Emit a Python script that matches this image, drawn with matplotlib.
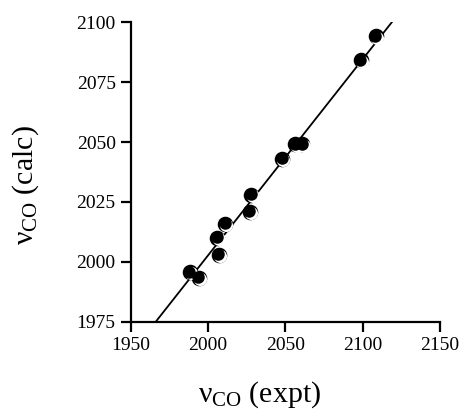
import matplotlib.pyplot as plt
import matplotlib.transforms as mtransforms

plt.rcParams['font.family'] = 'Liberation Serif'
plt.rcParams['mathtext.fontset'] = 'custom'
plt.rcParams['mathtext.rm'] = 'Liberation Serif'

# measured vs calculated CO stretching frequencies
nu_expt = [1988, 1994, 2006, 2007, 2011, 2027, 2028, 2048, 2056.5, 2061, 2099, 2108.5]
nu_calc = [1995.7, 1993.5, 2010, 2003, 2016, 2021, 2028, 2043, 2049, 2049, 2084, 2094]

# fitted line (end points)
fit_x = [1966, 2119]
fit_y = [1975, 2100]

xticks = [1950, 2000, 2050, 2100, 2150]
yticks = [1975, 2000, 2025, 2050, 2075, 2100]

fig = plt.figure(figsize=(4.61, 4.09), dpi=100)
ax = fig.add_axes([0.284, 0.213, 0.670, 0.733])

ax.plot(fit_x, fit_y, color='black', lw=1.3, zorder=2)

# circles with a little white crescent, like the original
off = lambda dx, dy: mtransforms.offset_copy(ax.transData, fig=fig, x=dx, y=dy, units='dots')
ax.plot(nu_expt, nu_calc, 'o', ms=11.2, color='black', mec='none', zorder=3)
ax.plot(nu_expt, nu_calc, 'o', ms=9.4, color='white', mec='none', zorder=4,
        transform=off(1.2, -1.2))
ax.plot(nu_expt, nu_calc, 'o', ms=9.0, color='black', mec='none', zorder=5,
        transform=off(-0.6, 0.6))

ax.set_xlim(1950, 2150)
ax.set_ylim(1975, 2100)
ax.set_xticks(xticks)
ax.set_yticks(yticks)

for s in ['top', 'right']:
    ax.spines[s].set_visible(False)
for s in ['left', 'bottom']:
    ax.spines[s].set_linewidth(1.6)
ax.tick_params(direction='out', length=7, width=1.6, labelsize=14, pad=4)

ax.set_xlabel(r'$\mathrm{\nu_{CO}}$ (expt)', fontsize=21.5)
ax.set_ylabel(r'$\mathrm{\nu_{CO}}$ (calc)', fontsize=21.5)
ax.xaxis.set_label_coords(0.417, -0.19)
ax.yaxis.set_label_coords(-0.29, 0.457)

fig.savefig('out.png', dpi=100)
